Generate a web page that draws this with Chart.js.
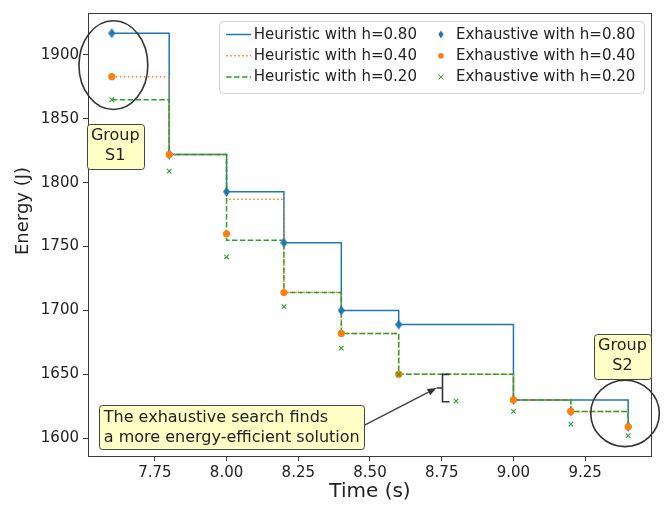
<!DOCTYPE html>
<html>
<head>
<meta charset="utf-8">
<script src="https://cdn.jsdelivr.net/npm/chart.js@4.4.1/dist/chart.umd.min.js"></script>
<style>
  html, body { margin: 0; padding: 0; background: #ffffff; }
  #wrap { width: 664px; height: 506px; }
</style>
</head>
<body>
<div id="wrap"><canvas id="energyChart" width="664" height="506"></canvas></div>
<script>
// Execution time (s) of each configuration
const times = [7.6, 7.8, 8.0, 8.2, 8.4, 8.6, 8.8, 9.0, 9.2, 9.4];

// Energy (J) found by the heuristic, one series per threshold h
const heuristic080 = [1917, 1822, 1793, 1753, 1700, 1689, 1689, 1630, 1630, 1609];
const heuristic040 = [1883, 1822, 1787, 1714, 1682, 1650, 1650, 1630, 1621, 1609];
const heuristic020 = [1865, 1822, 1755, 1714, 1682, 1650, 1650, 1630, 1621, 1609];

// Energy (J) found by the exhaustive search
const exhaustive080 = [1917, 1822, 1793, 1753, 1700, 1689, null, 1630, 1621, 1609];
const exhaustive040 = [1883, 1822, 1760, 1714, 1682, 1650, null, 1630, 1621, 1609];
const exhaustive020 = [1865, 1809, 1742, 1703, 1670.5, 1650, 1629, 1621, 1611, 1602];

const seriesLabels = [
  'Heuristic with h=0.80', 'Heuristic with h=0.40', 'Heuristic with h=0.20',
  'Exhaustive with h=0.80', 'Exhaustive with h=0.40', 'Exhaustive with h=0.20'
];

const xTickValues = [7.75, 8.00, 8.25, 8.50, 8.75, 9.00, 9.25];
const yTickValues = [1600, 1650, 1700, 1750, 1800, 1850, 1900];
const xLimits = [7.517, 9.483];
const yLimits = [1586.1, 1932.8];

const xTitle = 'Time (s)';
const yTitle = 'Energy (J)';

// Callout texts
const groupS1Text = ['Group', 'S1'];
const groupS2Text = ['Group', 'S2'];
const noteText = ['The exhaustive search finds', 'a more energy-efficient solution'];

const BLUE = '#1f77b4', ORANGE = '#ff7f0e', GREEN = '#2ca02c';
const INK = '#222222';
const FRAME = '#3a3a3a';
const FONT = "'DejaVu Sans', sans-serif";

const pairs = (ys) => times.map((t, i) => ({ x: t, y: ys[i] }));

// thin diamond marker used for the h=0.80 exhaustive points
function thinDiamond(color, w, h) {
  const c = document.createElement('canvas');
  c.width = w; c.height = h;
  const g = c.getContext('2d');
  g.fillStyle = color;
  g.beginPath();
  g.moveTo(w / 2, 0); g.lineTo(w, h / 2); g.lineTo(w / 2, h); g.lineTo(0, h / 2);
  g.closePath();
  g.fill();
  return c;
}
const diamondMarker = thinDiamond(BLUE, 7, 10);

const dottedDash = [1.5, 2.5];
const dashedDash = [5.5, 2.4];

function stepLine(label, ys, color, dash, order) {
  return {
    label, data: pairs(ys), showLine: true, stepped: true,
    borderColor: color, borderWidth: 1.5, borderDash: dash,
    pointRadius: 0, pointHoverRadius: 0, fill: false, order
  };
}

const datasets = [
  stepLine(seriesLabels[0], heuristic080, BLUE, [], 6),
  stepLine(seriesLabels[1], heuristic040, ORANGE, dottedDash, 5),
  stepLine(seriesLabels[2], heuristic020, GREEN, dashedDash, 4),
  { label: seriesLabels[3], data: pairs(exhaustive080), showLine: false,
    pointStyle: diamondMarker, pointRadius: 5, backgroundColor: BLUE, borderColor: BLUE, order: 3 },
  { label: seriesLabels[4], data: pairs(exhaustive040), showLine: false,
    pointStyle: 'circle', pointRadius: 3.6, borderWidth: 0, backgroundColor: ORANGE, borderColor: ORANGE, order: 2 },
  { label: seriesLabels[5], data: pairs(exhaustive020), showLine: false,
    pointStyle: 'crossRot', pointRadius: 3.2, borderWidth: 1.1, backgroundColor: GREEN, borderColor: GREEN, order: 1 }
];

// ---------- drawing helpers ----------
function textBox(ctx, lines, cx, cy, opts) {
  ctx.font = opts.font;
  const lineH = opts.lineHeight;
  const widths = lines.map(l => ctx.measureText(l).width);
  const w = Math.max(...widths) + 2 * opts.padX;
  const h = lines.length * lineH + 2 * opts.padY;
  const x0 = cx - w / 2, y0 = cy - h / 2;
  ctx.beginPath();
  ctx.roundRect(Math.round(x0) + 0.5, Math.round(y0) + 0.5, Math.round(w), Math.round(h), 3);
  ctx.fillStyle = '#ffffc6';
  ctx.fill();
  ctx.lineWidth = 1;
  ctx.strokeStyle = '#444444';
  ctx.stroke();
  ctx.fillStyle = INK;
  ctx.textBaseline = 'middle';
  lines.forEach((l, i) => {
    const ty = y0 + opts.padY + lineH * (i + 0.5);
    if (opts.align === 'left') {
      ctx.textAlign = 'left';
      ctx.fillText(l, x0 + opts.padX, ty);
    } else {
      ctx.textAlign = 'center';
      ctx.fillText(l, cx, ty);
    }
  });
  return { x0, y0, w, h };
}

function ring(ctx, cx, cy, rx, ry) {
  ctx.beginPath();
  ctx.ellipse(cx, cy, rx, ry, 0, 0, Math.PI * 2);
  ctx.lineWidth = 1.6;
  ctx.strokeStyle = '#333333';
  ctx.stroke();
}

const notesPlugin = {
  id: 'notes',
  afterDatasetsDraw(chart) {
    const { ctx, chartArea: a, scales } = chart;
    const X = v => scales.x.getPixelForValue(v);
    const Y = v => scales.y.getPixelForValue(v);
    ctx.save();

    // axes frame
    ctx.strokeStyle = FRAME;
    ctx.lineWidth = 1;
    ctx.strokeRect(Math.round(a.left) + 0.5, Math.round(a.top) + 0.5,
                   Math.round(a.right - a.left) - 1, Math.round(a.bottom - a.top));

    // y axis title
    ctx.save();
    ctx.translate(23.3, 211);
    ctx.rotate(-Math.PI / 2);
    ctx.font = '18px ' + FONT;
    ctx.fillStyle = INK;
    ctx.textAlign = 'center';
    ctx.textBaseline = 'middle';
    ctx.fillText(yTitle, 0, 0);
    ctx.restore();

    // group rings, sized in data units
    const s1 = { cx: X(7.6055), cy: Y(1892), rx: X(7.6055 + 0.12) - X(7.6055), ry: Y(1892) - Y(1892 + 34.7) };
    ring(ctx, s1.cx, s1.cy, s1.rx, s1.ry);
    const s2 = { cx: X(9.389), cy: Y(1619.4), rx: X(9.389 + 0.1195) - X(9.389), ry: Y(1619.4) - Y(1619.4 + 26) };
    ring(ctx, s2.cx, s2.cy, s2.rx, s2.ry);

    const boxOpts = { font: '16px ' + FONT, lineHeight: 19.5, padX: 4.2, padY: 2.8, align: 'center' };
    textBox(ctx, groupS1Text, X(7.612), Y(1828.8), boxOpts);
    textBox(ctx, groupS2Text, X(9.380), Y(1664.3), boxOpts);

    // bracket between heuristic and exhaustive result at t = 8.8
    const bx = Math.round(X(8.751)) + 0.5;
    const bTop = Y(1650), bBot = Y(1628.6), bMid = (bTop + bBot) / 2;
    ctx.beginPath();
    ctx.moveTo(bx + 7, bTop); ctx.lineTo(bx, bTop); ctx.lineTo(bx, bBot); ctx.lineTo(bx + 7, bBot);
    ctx.moveTo(bx, bMid); ctx.lineTo(bx - 6, bMid);
    ctx.lineWidth = 1.6;
    ctx.strokeStyle = '#333333';
    ctx.stroke();

    // note box and arrow
    const nb = textBox(ctx, noteText, X(8.018), Y(1608.5),
      { font: '16px ' + FONT, lineHeight: 20, padX: 4.4, padY: 2, align: 'left' });
    const sx = nb.x0 + nb.w, sy = nb.y0 + nb.h / 2 - 2;
    const tx = bx - 6, ty = bMid;
    const ang = Math.atan2(ty - sy, tx - sx);
    const headLen = 9, headW = 3.6;
    const hx = tx - headLen * Math.cos(ang), hy = ty - headLen * Math.sin(ang);
    ctx.beginPath();
    ctx.moveTo(sx, sy); ctx.lineTo(hx, hy);
    ctx.lineWidth = 1.6;
    ctx.stroke();
    ctx.beginPath();
    ctx.moveTo(tx, ty);
    ctx.lineTo(hx + headW * Math.sin(ang), hy - headW * Math.cos(ang));
    ctx.lineTo(hx - headW * Math.sin(ang), hy + headW * Math.cos(ang));
    ctx.closePath();
    ctx.fillStyle = '#333333';
    ctx.fill();

    ctx.restore();
  },
  afterDraw(chart) {
    // two-column legend in the upper right corner
    const { ctx, chartArea: a } = chart;
    ctx.save();
    ctx.font = '15px ' + FONT;
    const col1W = Math.max(...seriesLabels.slice(0, 3).map(t => ctx.measureText(t).width));
    const col2W = Math.max(...seriesLabels.slice(3).map(t => ctx.measureText(t).width));
    const padL = 7, handle = 25, gap = 2.5, colGap = 11.5, padR = 9;
    const w = padL + handle + gap + col1W + colGap + handle + gap + col2W + padR;
    const h = 72.3;
    const right = a.right - 7.7, top = a.top + 8;
    const left = right - w;
    ctx.beginPath();
    ctx.roundRect(Math.round(left) + 0.5, Math.round(top) + 0.5, Math.round(w), Math.round(h), 4);
    ctx.fillStyle = 'rgba(255,255,255,0.85)';
    ctx.fill();
    ctx.strokeStyle = '#d0d0d0';
    ctx.lineWidth = 1;
    ctx.stroke();

    const rows = [top + 13.5, top + 34.8, top + 56];
    const c1 = left + padL;
    const c2 = c1 + handle + gap + col1W + colGap;
    const lineStyles = [[BLUE, []], [ORANGE, dottedDash], [GREEN, dashedDash]];
    ctx.textBaseline = 'middle';
    ctx.textAlign = 'left';
    lineStyles.forEach(([col, dash], i) => {
      ctx.beginPath();
      ctx.setLineDash(dash);
      ctx.moveTo(c1, rows[i]); ctx.lineTo(c1 + handle, rows[i]);
      ctx.strokeStyle = col; ctx.lineWidth = 1.5;
      ctx.stroke();
      ctx.setLineDash([]);
      ctx.fillStyle = INK;
      ctx.fillText(seriesLabels[i], c1 + handle + gap, rows[i] + 0.5);
    });
    const mx = c2 + handle / 2;
    // diamond
    ctx.beginPath();
    ctx.moveTo(mx, rows[0] - 4); ctx.lineTo(mx + 2.6, rows[0]); ctx.lineTo(mx, rows[0] + 4); ctx.lineTo(mx - 2.6, rows[0]);
    ctx.closePath(); ctx.fillStyle = BLUE; ctx.fill();
    // circle
    ctx.beginPath();
    ctx.arc(mx, rows[1], 2.8, 0, Math.PI * 2);
    ctx.fillStyle = ORANGE; ctx.fill();
    // cross
    ctx.beginPath();
    ctx.moveTo(mx - 2.5, rows[2] - 2.5); ctx.lineTo(mx + 2.5, rows[2] + 2.5);
    ctx.moveTo(mx + 2.5, rows[2] - 2.5); ctx.lineTo(mx - 2.5, rows[2] + 2.5);
    ctx.strokeStyle = GREEN; ctx.lineWidth = 1; ctx.stroke();
    ctx.fillStyle = INK;
    for (let i = 0; i < 3; i++) {
      ctx.fillText(seriesLabels[3 + i], c2 + handle + gap, rows[i] + 0.5);
    }
    ctx.restore();
  }
};

Chart.defaults.font.family = FONT;
Chart.defaults.color = INK;

new Chart(document.getElementById('energyChart'), {
  type: 'scatter',
  data: { datasets },
  options: {
    responsive: false,
    animation: false,
    devicePixelRatio: 1,
    layout: { padding: { left: 0, right: 12, top: 7, bottom: 0 } },
    plugins: { legend: { display: false }, tooltip: { enabled: false } },
    scales: {
      x: {
        type: 'linear', min: xLimits[0], max: xLimits[1],
        afterBuildTicks: s => { s.ticks = xTickValues.map(v => ({ value: v })); },
        afterFit: s => { s.height = 50; },
        ticks: { callback: v => v.toFixed(2), font: { size: 15 }, color: INK, padding: 3, maxRotation: 0 },
        grid: { display: true, drawOnChartArea: false, drawTicks: true, tickLength: 5, tickColor: FRAME, tickWidth: 1 },
        border: { display: false },
        title: { display: true, text: xTitle, font: { size: 20 }, color: INK, padding: { top: 0, bottom: 2 } }
      },
      y: {
        type: 'linear', min: yLimits[0], max: yLimits[1],
        afterBuildTicks: s => { s.ticks = yTickValues.map(v => ({ value: v })); },
        afterFit: s => { s.width = 88; },
        ticks: { callback: v => String(v), font: { size: 15 }, color: INK, padding: 4 },
        grid: { display: true, drawOnChartArea: false, drawTicks: true, tickLength: 5, tickColor: FRAME, tickWidth: 1 },
        border: { display: false },
        title: { display: false }
      }
    }
  },
  plugins: [notesPlugin]
});
</script>
</body>
</html>
